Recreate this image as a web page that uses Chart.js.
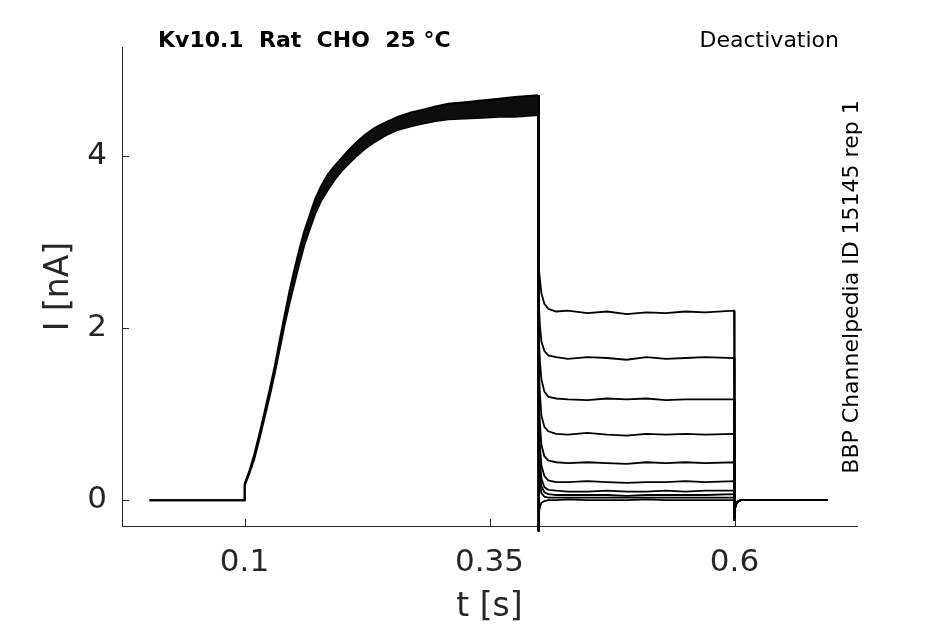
<!DOCTYPE html>
<html>
<head>
<meta charset="utf-8">
<script src="https://cdn.jsdelivr.net/npm/chart.js@4.4.1/dist/chart.umd.min.js"></script>
<style>
html, body { margin: 0; padding: 0; background: #fff; }
#wrap { width: 945px; height: 624px; }
</style>
</head>
<body>
<div id="wrap"><canvas id="chart" width="945" height="624"></canvas></div>
<script>
// ---- data [t in s, I in nA] ----
var tPre = [0.003, 0.05, 0.0997];
var iPre = [0, 0, 0];

// activation: upper and lower edge of the overlapping sweeps
var tAct   = [0.1, 0.1004, 0.105, 0.110, 0.115, 0.120, 0.126, 0.131, 0.136, 0.141, 0.146, 0.151, 0.156, 0.161, 0.167, 0.172, 0.178,
              0.185, 0.192, 0.199, 0.206, 0.213, 0.223, 0.233, 0.245, 0.257, 0.270, 0.281, 0.295, 0.308, 0.325, 0.342, 0.360, 0.376, 0.3995];
var iActHi = [0.02, 0.19, 0.34, 0.53, 0.76, 1.00, 1.30, 1.56, 1.86, 2.15, 2.43, 2.68, 2.91, 3.12, 3.32, 3.49, 3.64,
              3.78, 3.88, 3.97, 4.06, 4.14, 4.24, 4.32, 4.39, 4.45, 4.50, 4.53, 4.57, 4.60, 4.62, 4.64, 4.66, 4.68, 4.70];
var iActLo = [0.00, 0.17, 0.31, 0.48, 0.70, 0.94, 1.22, 1.48, 1.76, 2.04, 2.29, 2.52, 2.75, 2.96, 3.16, 3.32, 3.47,
              3.60, 3.72, 3.82, 3.90, 3.98, 4.08, 4.16, 4.24, 4.30, 4.34, 4.37, 4.40, 4.42, 4.43, 4.44, 4.45, 4.45, 4.47];

// capacitive step at the start of the deactivation pulse
var tStep = [0.4, 0.4001];
var iStep = [4.70, -0.36];

// deactivation tails, one per sweep
var tTail = [0.4003, 0.4015, 0.403, 0.406, 0.41, 0.418, 0.43, 0.45, 0.47, 0.49, 0.51, 0.53, 0.55, 0.57, 0.5995];
var tail1  = [2.72, 2.55, 2.40, 2.28, 2.22, 2.19, 2.20, 2.17, 2.19, 2.16, 2.18, 2.17, 2.19, 2.18, 2.20];
var tail2  = [2.30, 2.02, 1.84, 1.73, 1.68, 1.66, 1.64, 1.66, 1.65, 1.63, 1.66, 1.64, 1.65, 1.66, 1.65];
var tail3  = [1.92, 1.60, 1.40, 1.26, 1.20, 1.18, 1.17, 1.16, 1.18, 1.17, 1.18, 1.16, 1.17, 1.17, 1.17];
var tail4  = [1.55, 1.22, 0.98, 0.85, 0.80, 0.77, 0.76, 0.78, 0.76, 0.75, 0.77, 0.76, 0.77, 0.76, 0.77];
var tail5  = [1.20, 0.88, 0.64, 0.51, 0.46, 0.44, 0.43, 0.44, 0.43, 0.42, 0.44, 0.43, 0.44, 0.43, 0.44];
var tail6  = [0.95, 0.62, 0.40, 0.28, 0.23, 0.21, 0.21, 0.22, 0.21, 0.20, 0.21, 0.21, 0.22, 0.21, 0.22];
var tail7  = [0.75, 0.45, 0.25, 0.15, 0.12, 0.11, 0.10, 0.10, 0.11, 0.10, 0.10, 0.11, 0.10, 0.11, 0.11];
var tail8  = [0.55, 0.32, 0.16, 0.09, 0.07, 0.06, 0.06, 0.06, 0.06, 0.05, 0.06, 0.06, 0.06, 0.06, 0.07];
var tail9  = [0.35, 0.18, 0.08, 0.04, 0.03, 0.03, 0.03, 0.03, 0.03, 0.03, 0.03, 0.03, 0.03, 0.03, 0.03];
var tail10 = [-0.15, -0.08, -0.03, -0.01, 0.00, 0.00, 0.01, 0.00, 0.00, 0.00, 0.01, 0.00, 0.00, 0.00, 0.00];
var tailSweeps = [tail1, tail2, tail3, tail4, tail5, tail6, tail7, tail8, tail9, tail10];

// back to holding potential
var tPost = [0.6, 0.6004, 0.601, 0.603, 0.606, 0.62, 0.65, 0.695];
var iPost = [-0.24, -0.12, -0.06, -0.02, 0.00, 0.00, 0.00, 0.00];

var xTicks = [0.1, 0.35, 0.6];
var yTicks = [0, 2, 4];

var AXIS = '#262626';
var FONT = 'DejaVu Sans';

var pts = function (ts, is) {
  return ts.map(function (t, k) { return { x: t, y: is[k] }; });
};

var datasets = [];
datasets.push({
  data: pts(tPre, iPre).concat(pts(tAct, iActHi)),
  borderColor: '#000', borderWidth: 2, backgroundColor: '#0d0d0d', fill: '+1'
});
datasets.push({
  data: pts(tPre, iPre).concat(pts(tAct, iActLo)),
  borderColor: '#000', borderWidth: 2, fill: false
});
tailSweeps.forEach(function (tail) {
  datasets.push({
    data: pts(tStep, iStep).concat(pts(tTail, tail), pts(tPost, iPost)),
    borderColor: '#000', borderWidth: 1.8, fill: false, clip: false
  });
});

// inward ticks and the text around the axes
var decor = {
  id: 'decor',
  afterDraw: function (chart) {
    var ctx = chart.ctx, a = chart.chartArea, sx = chart.scales.x, sy = chart.scales.y;
    ctx.save();
    ctx.strokeStyle = AXIS;
    ctx.lineWidth = 1;
    ctx.beginPath();
    xTicks.forEach(function (v) {
      var p = Math.round(sx.getPixelForValue(v)) + 0.5;
      ctx.moveTo(p, a.bottom); ctx.lineTo(p, a.bottom - 7);
    });
    yTicks.forEach(function (v) {
      var p = Math.round(sy.getPixelForValue(v)) + 0.5;
      ctx.moveTo(a.left, p); ctx.lineTo(a.left + 7, p);
    });
    ctx.stroke();

    ctx.fillStyle = '#000';
    ctx.textBaseline = 'alphabetic';
    ctx.font = 'bold 22px "' + FONT + '"';
    ctx.textAlign = 'left';
    ctx.fillText('Kv10.1  Rat  CHO  25 °C', 158, 47);
    ctx.font = '22px "' + FONT + '"';
    ctx.textAlign = 'right';
    ctx.fillText('Deactivation', 839, 47);
    ctx.translate(858, 287);
    ctx.rotate(-Math.PI / 2);
    ctx.textAlign = 'center';
    ctx.fillText('BBP Channelpedia ID 15145 rep 1', 0, 0);
    ctx.restore();
  }
};

new Chart(document.getElementById('chart').getContext('2d'), {
  type: 'line',
  data: { datasets: datasets },
  plugins: [decor],
  options: {
    responsive: false,
    animation: false,
    devicePixelRatio: 1,
    layout: { padding: { left: 0, right: 88, top: 47, bottom: 0 } },
    elements: { point: { radius: 0 }, line: { tension: 0 } },
    plugins: { legend: { display: false }, tooltip: { enabled: false } },
    scales: {
      x: {
        type: 'linear', min: -0.025, max: 0.725,
        afterBuildTicks: function (s) { s.ticks = xTicks.map(function (v) { return { value: v }; }); },
        afterFit: function (s) { s.height = 98; },
        grid: { display: true, drawOnChartArea: false, drawTicks: false },
        border: { display: true, color: AXIS, width: 1 },
        ticks: { color: AXIS, padding: 18, maxRotation: 0, font: { family: FONT, size: 31 },
                 callback: function (v) { return String(v); } },
        title: { display: true, text: 't [s]', color: AXIS, font: { family: FONT, size: 33 },
                 padding: { top: 0, bottom: -3 } }
      },
      y: {
        type: 'linear', min: -0.3, max: 5.26,
        afterBuildTicks: function (s) { s.ticks = yTicks.map(function (v) { return { value: v }; }); },
        afterFit: function (s) { s.width = 122; },
        grid: { display: true, drawOnChartArea: false, drawTicks: false },
        border: { display: true, color: AXIS, width: 1 },
        ticks: { color: AXIS, padding: 15, font: { family: FONT, size: 31 },
                 callback: function (v) { return String(v); } },
        title: { display: true, text: 'I [nA]', color: AXIS, font: { family: FONT, size: 33 },
                 padding: { top: 40, bottom: 0 } }
      }
    }
  }
});
</script>
</body>
</html>
